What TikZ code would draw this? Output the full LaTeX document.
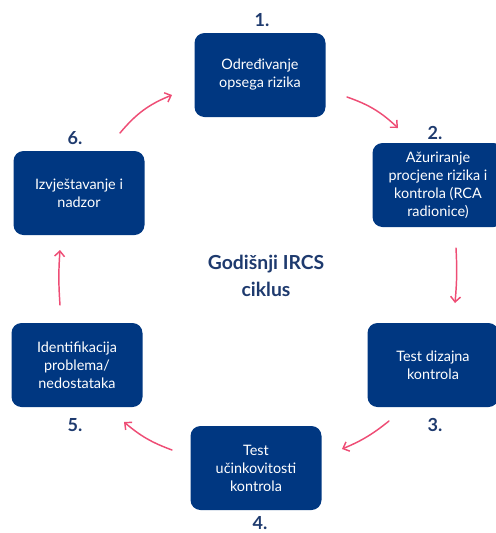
\documentclass[tikz,border=0pt]{standalone}
\usepackage{fontspec}
\setmainfont{Lato}
\usetikzlibrary{arrows.meta}
\definecolor{box-blue}{HTML}{003781}
\definecolor{num-blue}{HTML}{1E3A6E}
\definecolor{arrow-pink}{HTML}{EE4D75}

\begin{document}
\begin{tikzpicture}[x=0.75pt,y=-0.75pt,
    stepbox/.style={fill=box-blue, rounded corners=7.5pt, minimum width=98.25pt,
      minimum height=63pt, text=white, align=center, font=\fontsize{10.8}{13.5}\selectfont},
    stepnum/.style={text=num-blue, font=\fontsize{13.5}{15}\selectfont\bfseries},
    cyclearrow/.style={draw=arrow-pink, line width=1.1pt, line cap=round,
      -{Straight Barb[length=4pt,width=7.5pt,line width=1.1pt]}}]
  \useasboundingbox (0,0) rectangle (496,533);
  % boxes
  \node[stepbox] (b1) at (260,75) {Određivanje\\opsega rizika};
  \node[stepbox] (b2) at (438,185) {Ažuriranje\\procjene rizika i\\kontrola (RCA\\radionice)};
  \node[stepbox] (b3) at (433,365) {Test dizajna\\kontrola};
  \node[stepbox] (b4) at (256,468) {Test\\učinkovitosti\\kontrola};
  \node[stepbox] (b5) at (77,365) {Identifikacija\\problema/\\nedostataka};
  \node[stepbox] (b6) at (79,193) {Izvještavanje i\\nadzor};
  % numbers
  \node[stepnum] (n1) at (262,20) {1.};
  \node[stepnum] (n2) at (435,133) {2.};
  \node[stepnum] (n3) at (435,425) {3.};
  \node[stepnum] (n4) at (260,523) {4.};
  \node[stepnum] (n5) at (75,425) {5.};
  \node[stepnum] (n6) at (75,138) {6.};
  % centre
  \node[text=num-blue, align=center, font=\fontsize{14.5}{20}\selectfont\bfseries]
    (title) at (266,276) {Godišnji IRCS\\ciklus};
  % arrow ends
  \coordinate (a1s) at (347,97);  \coordinate (a1e) at (398,128);
  \coordinate (a2s) at (456,248); \coordinate (a2e) at (455,303);
  \coordinate (a3s) at (389,421); \coordinate (a3e) at (342,449);
  \coordinate (a4s) at (172,450); \coordinate (a4e) at (124,422);
  \coordinate (a5s) at (60,305);  \coordinate (a5e) at (60,250);
  \coordinate (a6s) at (120,133); \coordinate (a6e) at (172,95);
  \draw[cyclearrow] (a1s) to[bend left=12] (a1e);
  \draw[cyclearrow] (a2s) to[bend left=4] (a2e);
  \draw[cyclearrow] (a3s) to[bend left=8] (a3e);
  \draw[cyclearrow] (a4s) to[bend left=10] (a4e);
  \draw[cyclearrow] (a5s) to[bend left=4] (a5e);
  \draw[cyclearrow] (a6s) to[bend left=14] (a6e);
\end{tikzpicture}
\end{document}
